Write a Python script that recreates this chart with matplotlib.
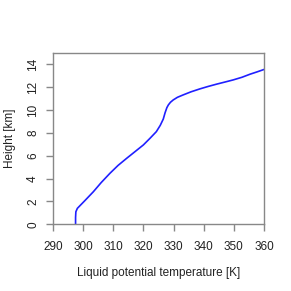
import matplotlib
matplotlib.use("Agg")
import matplotlib.pyplot as plt

plt.rcParams["font.family"] = ["Liberation Sans", "DejaVu Sans"]

# profile (temperature in K, height in km)
theta_l = [297.5, 297.5, 297.6, 298.1, 300.5, 303.4, 306.0, 308.9, 311.6, 314.45,
           317.3, 320.0, 322.2, 324.3, 325.6, 326.6, 327.2, 327.8, 328.3, 329.0,
           329.9, 331.3, 333.2, 335.8, 338.8, 341.5, 344.3, 347.0, 349.8, 352.7,
           355.4, 357.7, 360.0]
height = [0.0, 0.6, 1.1, 1.4, 2.05, 2.85, 3.65, 4.46, 5.15, 5.77,
          6.37, 6.94, 7.52, 8.1, 8.65, 9.2, 9.75, 10.2, 10.44, 10.67,
          10.87, 11.1, 11.31, 11.58, 11.84, 12.05, 12.25, 12.43, 12.62, 12.85,
          13.12, 13.32, 13.53]

x_ticks = [290, 300, 310, 320, 330, 340, 350, 360]
y_ticks = [0, 2, 4, 6, 8, 10, 12, 14]

fig = plt.figure(figsize=(2.91, 2.91), dpi=100)
ax = fig.add_axes([0.182, 0.229, 0.725, 0.590])
ax.plot(theta_l, height, color="#2020ff", lw=1.2)
ax.set_xlim(290, 360)
ax.set_ylim(0, 15)
ax.set_xticks(x_ticks)
ax.set_yticks(y_ticks)
ax.set_yticklabels([str(v) for v in y_ticks], rotation=90, va="center")
for s in ax.spines.values():
    s.set_color("#888888")
    s.set_linewidth(1.0)
ax.tick_params(length=5, width=1.0, color="#888888", labelsize=8.5,
               labelcolor="#222222")
ax.tick_params(axis="x", pad=7)
ax.tick_params(axis="y", pad=5)
ax.set_xlabel("Liquid potential temperature [K]", fontsize=8.5, labelpad=10, color="#222222")
ax.set_ylabel("Height [km]", fontsize=8.5, labelpad=8, color="#222222")
fig.savefig("out.png", dpi=100)
